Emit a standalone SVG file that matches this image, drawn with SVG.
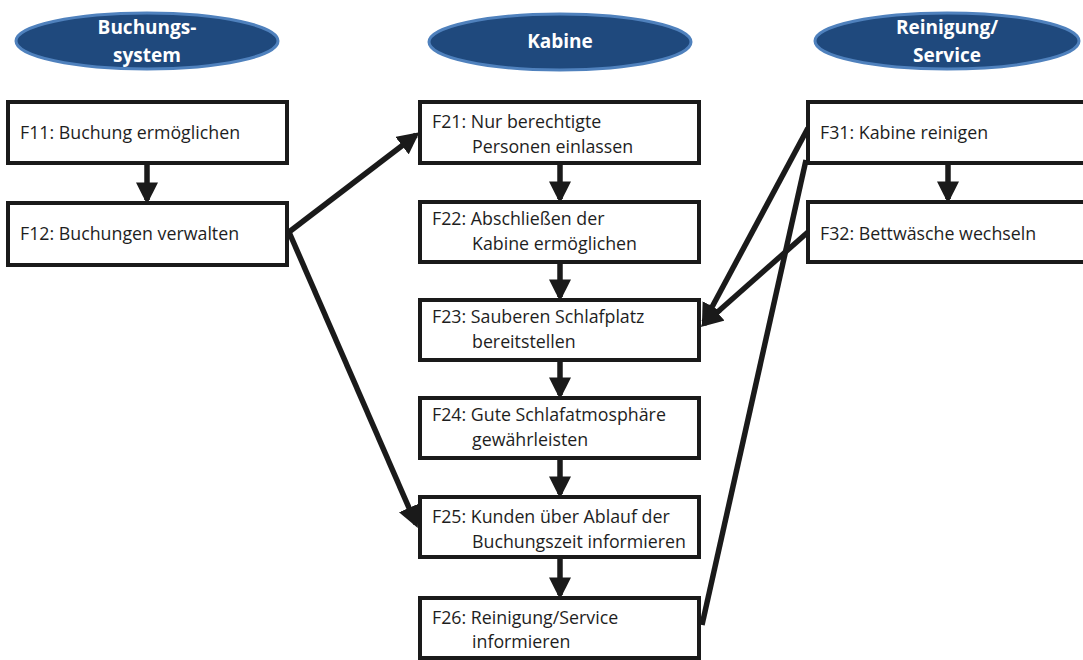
<svg xmlns="http://www.w3.org/2000/svg" width="1083" height="660" viewBox="0 0 1083 660">
<defs>
<marker id="ah" markerWidth="4" markerHeight="4" refX="3.2" refY="2" orient="auto" markerUnits="strokeWidth">
<path d="M0,0 L4,2 L0,4 Z" fill="#1a1a1a"/>
</marker>
<style>
.box{fill:#fff;stroke:#1a1a1a;stroke-width:4}
.hd{fill:#1f497d;stroke:#4f81bd;stroke-width:3}
.ht{font-family:"Open Sans","Liberation Sans",sans-serif;font-weight:bold;font-size:19px;fill:#fff;text-anchor:middle}
.t{font-family:"Open Sans","Liberation Sans",sans-serif;font-size:17.8px;fill:#1e1e1e}
.c{stroke:#1a1a1a;stroke-width:5.5;fill:none;marker-end:url(#ah)}
.cn{stroke:#1a1a1a;stroke-width:5.5;fill:none}
</style>
</defs>
<rect width="1083" height="660" fill="#fff"/>
<g id="h1"><ellipse class="hd" cx="147" cy="41" rx="131" ry="28"/><text class="ht" x="147" y="34">Buchungs-</text><text class="ht" x="147" y="62">system</text></g>
<g id="h2"><ellipse class="hd" cx="560" cy="42" rx="131" ry="28"/><text class="ht" x="560" y="48">Kabine</text></g>
<g id="h3"><ellipse class="hd" cx="947" cy="41" rx="132" ry="28"/><text class="ht" x="947" y="34">Reinigung/</text><text class="ht" x="947" y="62">Service</text></g>
<g id="connectors">
<line class="c" x1="147" y1="163" x2="147" y2="200"/>
<line class="c" x1="289" y1="232" x2="416" y2="135"/>
<line class="c" x1="289" y1="232" x2="416" y2="524"/>
<line class="c" x1="560" y1="163" x2="560" y2="199"/>
<line class="c" x1="560" y1="262" x2="560" y2="297"/>
<line class="c" x1="560" y1="360" x2="560" y2="395"/>
<line class="c" x1="560" y1="458" x2="560" y2="494"/>
<line class="c" x1="560" y1="557" x2="560" y2="595"/>
<line class="c" x1="948" y1="163" x2="948" y2="199"/>
<line class="c" x1="808" y1="128" x2="704" y2="322"/>
<line class="c" x1="808" y1="232" x2="704" y2="324"/>
<line class="cn" x1="702" y1="625" x2="806" y2="160"/>
</g>
<g id="F11"><rect class="box" x="8" y="102" width="279" height="61"/><text class="t" x="20" y="139">F11: Buchung ermöglichen</text></g>
<g id="F12"><rect class="box" x="8" y="203" width="279" height="62"/><text class="t" x="20" y="240">F12: Buchungen verwalten</text></g>
<g id="F21"><rect class="box" x="420" y="102" width="279" height="61"/><text class="t" x="432" y="128">F21: Nur berechtigte</text><text class="t" x="472" y="153">Personen einlassen</text></g>
<g id="F22"><rect class="box" x="420" y="202" width="279" height="60"/><text class="t" x="432" y="225">F22: Abschließen der</text><text class="t" x="472" y="250">Kabine ermöglichen</text></g>
<g id="F23"><rect class="box" x="420" y="300" width="279" height="60"/><text class="t" x="432" y="323">F23: Sauberen Schlafplatz</text><text class="t" x="472" y="348">bereitstellen</text></g>
<g id="F24"><rect class="box" x="420" y="398" width="279" height="60"/><text class="t" x="432" y="421">F24: Gute Schlafatmosphäre</text><text class="t" x="472" y="446">gewährleisten</text></g>
<g id="F25"><rect class="box" x="420" y="497" width="279" height="60"/><text class="t" x="432" y="523">F25: Kunden über Ablauf der</text><text class="t" x="472" y="548">Buchungszeit informieren</text></g>
<g id="F26"><rect class="box" x="420" y="598" width="279" height="60"/><text class="t" x="432" y="624">F26: Reinigung/Service</text><text class="t" x="472" y="648">informieren</text></g>
<g id="F31"><rect class="box" x="808" y="102" width="280" height="61"/><text class="t" x="820" y="139">F31: Kabine reinigen</text></g>
<g id="F32"><rect class="box" x="808" y="202" width="280" height="60"/><text class="t" x="820" y="240">F32: Bettwäsche wechseln</text></g>
</svg>
